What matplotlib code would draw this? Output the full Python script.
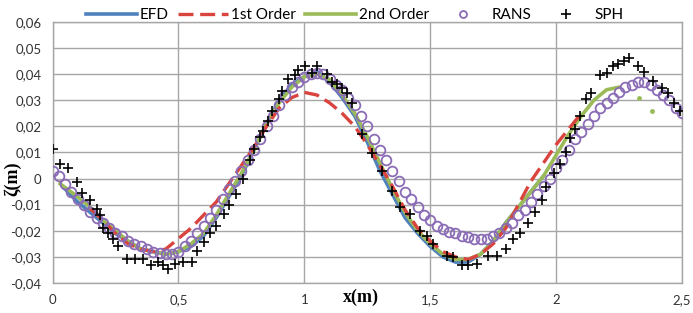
import matplotlib
matplotlib.use("Agg")
import matplotlib.pyplot as plt
import numpy as np

# EFD measurement
efd_x = [0.05, 0.10, 0.15, 0.20, 0.25, 0.30, 0.35, 0.40, 0.45, 0.50, 0.55, 0.60,
         0.65, 0.70, 0.75, 0.80, 0.85, 0.90, 0.95, 1.00, 1.05, 1.10, 1.15, 1.20,
         1.25, 1.30, 1.35, 1.40, 1.45, 1.50, 1.55, 1.60, 1.65, 1.70, 1.75, 1.80,
         1.85, 1.90, 1.95]
efd_y = [-0.004, -0.009, -0.013, -0.017, -0.021, -0.024, -0.027, -0.028, -0.029, -0.028, -0.026, -0.022,
         -0.015, -0.007, 0.001, 0.011, 0.021, 0.030, 0.036, 0.039, 0.041, 0.037, 0.031, 0.024,
         0.014, 0.003, -0.006, -0.015, -0.021, -0.026, -0.030, -0.032, -0.032, -0.029, -0.024, -0.017,
         -0.011, -0.005, 0.001]

# 1st order theory
first_x = [0.15, 0.20, 0.25, 0.30, 0.35, 0.40, 0.45, 0.50, 0.55, 0.60, 0.65, 0.70,
           0.75, 0.80, 0.85, 0.90, 0.95, 1.00, 1.05, 1.10, 1.15, 1.20, 1.25, 1.30,
           1.35, 1.40, 1.45, 1.50, 1.55, 1.60, 1.65, 1.70, 1.75, 1.80, 1.85, 1.90,
           1.95, 2.00, 2.05, 2.10]
first_y = [-0.0115, -0.016, -0.021, -0.025, -0.027, -0.028, -0.027, -0.023, -0.019, -0.014, -0.009, -0.002,
           0.005, 0.012, 0.020, 0.027, 0.031, 0.033, 0.032, 0.029, 0.025, 0.020, 0.013, 0.005,
           -0.003, -0.012, -0.019, -0.024, -0.028, -0.030, -0.031, -0.029, -0.025, -0.019, -0.010, -0.001,
           0.006, 0.013, 0.019, 0.025]

# 2nd order theory
second_x = [0.03, 0.10, 0.15, 0.20, 0.25, 0.30, 0.35, 0.40, 0.45, 0.50, 0.55, 0.60,
            0.65, 0.70, 0.75, 0.80, 0.85, 0.90, 0.95, 1.00, 1.05, 1.10, 1.15, 1.20,
            1.25, 1.30, 1.35, 1.40, 1.45, 1.50, 1.55, 1.60, 1.65, 1.70, 1.75, 1.80,
            1.85, 1.90, 1.95, 2.00, 2.05, 2.10, 2.15, 2.20, 2.25]
second_y = [-0.002, -0.007, -0.011, -0.016, -0.020, -0.024, -0.027, -0.028, -0.029, -0.028, -0.025, -0.021,
            -0.014, -0.006, 0.002, 0.011, 0.021, 0.029, 0.035, 0.039, 0.040, 0.038, 0.032, 0.025,
            0.016, 0.006, -0.004, -0.013, -0.020, -0.025, -0.029, -0.031, -0.031, -0.029, -0.024, -0.017,
            -0.011, -0.005, 0.001, 0.009, 0.017, 0.024, 0.030, 0.034, 0.035]
second_tail_x = [2.33, 2.38]
second_tail_y = [0.031, 0.026]

# RANS
rans_x = np.round(np.arange(0, 2.5001, 0.025), 3)
rans_y = [0.003, 0.001, -0.002, -0.005, -0.008, -0.010, -0.013, -0.015, -0.017, -0.019,
          -0.021, -0.022, -0.024, -0.025, -0.026, -0.027, -0.028, -0.0285, -0.029, -0.029,
          -0.028, -0.026, -0.024, -0.021, -0.018, -0.015, -0.012, -0.008, -0.004, -0.001,
          0.003, 0.007, 0.011, 0.015, 0.020, 0.024, 0.028, 0.032, 0.035, 0.037,
          0.039, 0.040, 0.0405, 0.040, 0.038, 0.036, 0.034, 0.031, 0.028, 0.024,
          0.020, 0.015, 0.011, 0.007, 0.003, -0.001, -0.005, -0.008, -0.011, -0.014,
          -0.016, -0.018, -0.0195, -0.0205, -0.021, -0.022, -0.0225, -0.023, -0.023, -0.023,
          -0.022, -0.021, -0.019, -0.017, -0.014, -0.012, -0.009, -0.006, -0.003, 0.000,
          0.004, 0.007, 0.011, 0.015, 0.018, 0.021, 0.024, 0.027, 0.029, 0.031,
          0.033, 0.035, 0.036, 0.037, 0.037, 0.036, 0.034, 0.032, 0.030, 0.027,
          0.025]

# SPH
sph_x = [0.00, 0.03, 0.06, 0.097, 0.117, 0.15, 0.176, 0.19, 0.20, 0.22, 0.24, 0.26,
         0.295, 0.328, 0.36, 0.39, 0.42, 0.44, 0.46, 0.487, 0.52, 0.553, 0.573, 0.60,
         0.625, 0.65, 0.68, 0.70, 0.73, 0.757, 0.784, 0.80, 0.824, 0.837, 0.857, 0.87,
         0.90, 0.91, 0.936, 0.963, 0.976, 1.003, 1.03, 1.05, 1.09, 1.11, 1.13, 1.15,
         1.17, 1.19, 1.23, 1.27, 1.31, 1.35, 1.38, 1.42, 1.46, 1.486, 1.51, 1.565,
         1.59, 1.625, 1.65, 1.685, 1.73, 1.765, 1.80, 1.83, 1.857, 1.89, 1.917, 1.943,
         1.96, 1.99, 2.015, 2.04, 2.055, 2.075, 2.095, 2.12, 2.14, 2.175, 2.20, 2.226,
         2.245, 2.27, 2.29, 2.325, 2.35, 2.385, 2.42, 2.445, 2.47, 2.49]
sph_y = [0.0115, 0.0057, 0.004, -0.0015, -0.0054, -0.0084, -0.0115, -0.014, -0.0188, -0.0207, -0.023, -0.0257,
         -0.0307, -0.0307, -0.031, -0.0333, -0.032, -0.033, -0.0345, -0.0326, -0.032, -0.032, -0.0276, -0.0245,
         -0.021, -0.018, -0.0134, -0.010, -0.0058, 0.000, 0.007, 0.0115, 0.0158, 0.0184, 0.022, 0.026,
         0.0306, 0.0337, 0.038, 0.0395, 0.0414, 0.0433, 0.0406, 0.0433, 0.040, 0.0368, 0.0364, 0.0345,
         0.0326, 0.029, 0.0172, 0.0096, 0.003, -0.0046, -0.011, -0.0134, -0.020, -0.022, -0.025, -0.0295,
         -0.030, -0.0333, -0.0333, -0.0326, -0.0295, -0.0295, -0.027, -0.023, -0.0207, -0.0169, -0.013, -0.0084,
         -0.0034, 0.002, 0.0057, 0.010, 0.0157, 0.019, 0.024, 0.0306, 0.0326, 0.0395, 0.0406, 0.0433,
         0.044, 0.045, 0.046, 0.0433, 0.041, 0.0375, 0.0345, 0.0326, 0.029, 0.026]

xticks = [0, 0.5, 1, 1.5, 2, 2.5]
yticks = [-0.04, -0.03, -0.02, -0.01, 0, 0.01, 0.02, 0.03, 0.04, 0.05, 0.06]

plt.rcParams['font.family'] = ['Lato', 'DejaVu Sans']

fig = plt.figure(figsize=(6.93, 3.13), dpi=100)
ax = fig.add_axes([0.0758, 0.096, 0.9084, 0.834])

ax.plot(efd_x, efd_y, color='#4f81bd', lw=2.6, label='EFD', zorder=3)
ax.plot(first_x, first_y, color='#d9443f', lw=2.4, ls=(0, (4.5, 2)), label='1st Order', zorder=4)
ax.plot(second_x, second_y, color='#9bbb59', lw=2.6, label='2nd Order', zorder=3)
ax.plot(second_tail_x, second_tail_y, ls='none', marker='o', ms=2.5, color='#9bbb59', zorder=3)
ax.plot(rans_x, rans_y, ls='none', marker='o', ms=7, mfc='none', mec='#8a6bb5', mew=1.3,
        label='RANS', zorder=5)
ax.plot(sph_x, sph_y, ls='none', marker='+', ms=7, color='black', mew=1.2, label='SPH', zorder=6)

ax.set_xlim(0, 2.5)
ax.set_ylim(-0.04, 0.06)
ax.set_xticks(xticks)
ax.set_yticks(yticks)
ax.set_xticklabels([('%g' % v).replace('.', ',') for v in xticks])
ax.set_yticklabels([('%.2f' % v).replace('.', ',') if v != 0 else '0' for v in yticks])
ax.tick_params(length=0, labelsize=9.5, colors='#333333', pad=8)
ax.grid(True, color='#a6a6a6', lw=1)
ax.set_axisbelow(True)
for s in ax.spines.values():
    s.set_color('#a6a6a6')
    s.set_linewidth(1)

ax.text(0.49, -0.054, 'x(m)', transform=ax.transAxes, ha='center', va='center',
        fontsize=13, fontweight='bold', family=['Liberation Serif', 'DejaVu Serif'])
ax.text(-0.064, 0.40, 'ζ(m)', transform=ax.transAxes, ha='center', va='center',
        rotation=90, fontsize=13, fontweight='bold', family=['Liberation Serif', 'DejaVu Serif'])

leg = ax.legend(loc='center', bbox_to_anchor=(0.48, 1.027), ncol=5, frameon=False,
                fontsize=11, handlelength=3.3, handletextpad=0.2, columnspacing=0.6,
                borderaxespad=0, borderpad=0)
for h in leg.legend_handles[3:4]:
    h.set_markersize(5)

fig.savefig('out.png', dpi=100)
